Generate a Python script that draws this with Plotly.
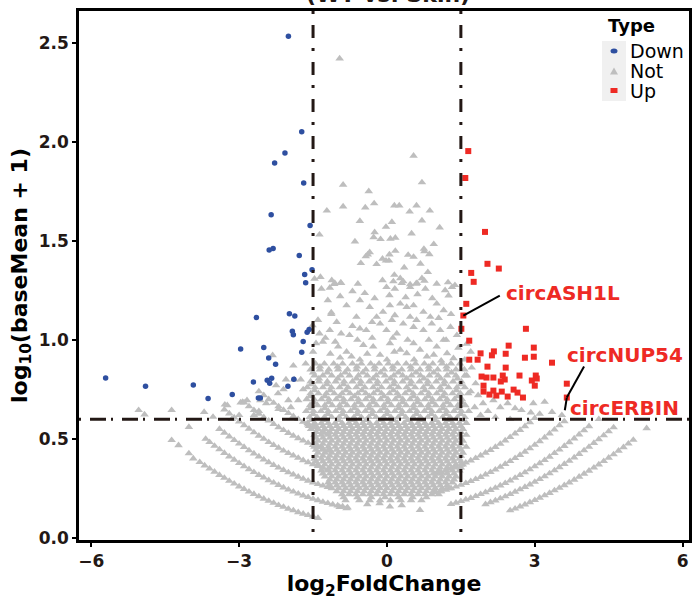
import plotly.graph_objects as go

# ---------------- data ----------------
up_x = [1.65, 1.59, 1.99, 2.04, 2.27, 1.71, 1.76, 1.61, 1.55, 1.51, 2.82, 1.67, 2.47, 2.98, 1.90, 2.17,
        2.13, 2.41, 1.67, 1.84, 2.80, 2.98, 3.35, 2.04, 2.41, 2.69, 1.92, 2.02, 2.16, 2.35, 2.39, 2.31,
        3.02, 3.04, 2.94, 3.65, 1.96, 3.00, 1.96, 2.16, 2.33, 2.08, 2.22, 2.45, 2.57, 2.65, 2.76, 3.65]
up_y = [1.953, 1.817, 1.545, 1.384, 1.360, 1.338, 1.293, 1.182, 1.123, 1.056, 1.056, 0.996, 0.971, 0.961,
        0.932, 0.942, 0.922, 0.930, 0.900, 0.900, 0.910, 0.915, 0.885, 0.865, 0.860, 0.820, 0.815, 0.810,
        0.810, 0.820, 0.800, 0.790, 0.820, 0.805, 0.795, 0.779, 0.769, 0.769, 0.739, 0.744, 0.739, 0.724,
        0.719, 0.714, 0.749, 0.734, 0.709, 0.709]

down_x = [-2.00, -1.73, -2.07, -2.28, -1.69, -2.35, -1.56, -2.39, -2.31, -1.78, -1.52, -1.67, -1.65,
          -5.71, -4.90, -3.93, -3.63, -3.14, -2.97, -2.65, -2.71, -2.61, -2.57, -2.50, -2.40, -2.26,
          -2.43, -2.34, -2.38, -1.98, -1.87, -1.92, -1.90, -1.70, -1.62, -1.58, -1.73, -2.01, -1.89]
down_y = [2.532, 2.050, 1.943, 1.893, 1.792, 1.632, 1.577, 1.454, 1.461, 1.426, 1.354, 1.330, 1.288,
          0.808, 0.766, 0.772, 0.704, 0.724, 0.954, 1.113, 0.788, 0.707, 0.707, 0.961, 0.908, 0.877,
          0.796, 0.806, 0.781, 1.132, 1.120, 1.044, 1.026, 0.992, 1.038, 1.053, 0.937, 0.766, 0.801]

# "Not" points: sparse upper part
not_top = [(-0.96, 2.42), (0.54, 1.929), (0.71, 1.795), (-0.89, 1.783), (-0.37, 1.750), (-1.22, 1.652),
           (-0.89, 1.673), (-0.44, 1.668), (-0.26, 1.689), (0.15, 1.678), (0.25, 1.678), (0.60, 1.678),
           (0.46, 1.647), (0.87, 1.652), (-0.55, 1.600), (0.10, 1.595), (0.71, 1.602), (-0.02, 1.570),
           (1.07, 1.567), (-1.37, 1.531), (-0.25, 1.543), (-0.27, 1.518), (-0.13, 1.508), (0.07, 1.510),
           (0.17, 1.515), (0.50, 1.537), (-0.65, 1.496), (0.95, 1.483), (-0.35, 1.442), (-0.39, 1.431),
           (-0.43, 1.421), (0.05, 1.431), (0.17, 1.449), (0.43, 1.429), (0.54, 1.419), (0.75, 1.459),
           (0.76, 1.447), (0.86, 1.432), (-0.09, 1.409), (-0.02, 1.400), (0.04, 1.400), (-0.53, 1.387),
           (-0.21, 1.382), (0.35, 1.365), (0.68, 1.384), (0.83, 1.342), (0.15, 1.328), (0.27, 1.311),
           (0.33, 1.295), (-1.35, 1.317), (-1.47, 1.308), (-1.12, 1.301), (-0.94, 1.288), (-1.07, 1.281),
           (-0.09, 1.301), (0.13, 1.295), (0.47, 1.280), (0.59, 1.283), (0.71, 1.311), (0.76, 1.298),
           (1.24, 1.290), (1.38, 1.276)]

# "Not" points: middle band (about 0.9 - 1.29)
not_mid = [(-1.33, 1.258), (-1.16, 1.263), (-1.06, 1.287), (-0.93, 1.287), (-0.59, 1.283), (-0.45, 1.236),
           (-0.01, 1.266), (0.16, 1.258), (0.30, 1.287), (0.47, 1.266), (0.61, 1.287), (0.78, 1.258),
           (1.01, 1.283), (1.32, 1.266), (1.25, 1.224), (-1.13, 1.138), (-0.82, 1.174), (-0.55, 1.200),
           (-0.35, 1.166), (-0.08, 1.141), (0.06, 1.174), (0.27, 1.183), (0.40, 1.166), (0.54, 1.174),
           (0.74, 1.141), (1.01, 1.183), (1.15, 1.149), (0.88, 1.116), (0.47, 1.116), (0.16, 1.124),
           (-0.21, 1.116), (-0.62, 1.116), (-1.37, 1.032), (-1.16, 1.049), (-0.93, 1.032), (-0.76, 1.024),
           (-0.55, 1.057), (-0.42, 1.049), (-0.14, 1.082), (-0.01, 1.049), (0.20, 1.032), (0.33, 1.082),
           (0.54, 1.065), (0.74, 1.049), (0.91, 1.082), (1.08, 1.049), (1.29, 1.065), (1.42, 1.024),
           (-1.44, 0.983), (-1.30, 0.990), (-0.99, 0.966), (-0.82, 0.940), (-0.72, 0.916), (-0.48, 0.974),
           (-0.28, 0.966), (-0.14, 0.924), (0.06, 0.983), (0.27, 0.950), (0.40, 0.932), (0.54, 0.983),
           (0.67, 0.950), (0.81, 0.916), (1.01, 0.966), (1.22, 0.932), (1.35, 0.907), (1.15, 1.000),
           (-1.20, 1.200), (-0.95, 1.220), (-0.70, 1.245), (-0.25, 1.210), (0.05, 1.225), (0.38, 1.215),
           (0.62, 1.230), (0.92, 1.210), (1.18, 1.250), (-1.40, 1.100), (-1.02, 1.090), (-0.70, 1.070),
           (-0.30, 1.090), (0.10, 1.100), (0.60, 1.100), (1.05, 1.110), (1.30, 1.130), (-1.25, 1.010),
           (-1.05, 0.990), (-0.60, 1.000), (-0.30, 1.010), (0.12, 1.010), (0.42, 1.000), (0.85, 1.000),
           (1.20, 1.000), (1.45, 0.960), (-1.50, 0.940), (-1.15, 0.930), (-0.40, 0.930), (0.15, 0.940),
           (0.95, 0.925), (-0.95, 0.910), (-0.55, 0.900), (0.00, 0.900), (0.55, 0.900), (1.10, 0.895),
           (-1.13, 1.130), (-1.51, 1.073)]

# "Not" points outside the fold-change cut-offs, near the horizontal cut-off
not_side = [(-2.32, 0.922), (-2.25, 0.770), (-2.05, 0.800), (-1.88, 0.800), (-1.75, 0.800), (-2.21, 0.730),
            (-2.00, 0.695), (-1.80, 0.695), (-2.57, 0.695), (-2.45, 0.680), (-2.84, 0.695), (-3.24, 0.670),
            (-2.93, 0.686), (-1.65, 0.880), (-1.90, 0.870), (-2.10, 0.750), (-1.70, 0.750), (-2.60, 0.640),
            (-2.20, 0.650), (-1.95, 0.660), (-5.04, 0.645), (-4.92, 0.623), (-4.37, 0.645), (-3.71, 0.636),
            (-3.53, 0.611), (-3.29, 0.673), (-2.97, 0.684), (-4.02, 0.560), (-3.00, 0.620), (-3.15, 0.600),
            (-2.70, 0.620), (1.62, 0.980), (1.70, 0.940), (1.58, 0.900), (1.72, 0.860), (1.62, 0.820),
            (1.80, 0.780), (1.70, 0.740), (1.85, 0.720), (1.95, 0.680), (1.78, 0.660), (2.05, 0.640),
            (2.16, 0.695), (2.30, 0.660), (2.45, 0.680), (2.60, 0.655), (2.73, 0.645), (2.92, 0.633),
            (2.97, 0.680), (3.20, 0.687), (3.35, 0.636), (3.55, 0.620), (4.30, 0.600), (5.27, 0.554),
            (1.90, 0.620), (2.20, 0.610), (2.50, 0.600), (0.06, 0.158), (0.67, 0.141), (-0.96, 0.156),
            (-0.82, 0.150), (0.30, 0.165), (-0.40, 0.170), (-0.15, 0.175)]

# "Not" points: dense centre, one row per y level
core_y = [0.88, 0.85, 0.82, 0.79, 0.76, 0.73, 0.70, 0.67, 0.64, 0.61,
          0.58, 0.55, 0.52, 0.49, 0.46, 0.43, 0.40, 0.37, 0.34, 0.31, 0.28, 0.25, 0.22, 0.19]
core_x = [
    [-1.45, -1.27, -1.08, -0.90, -0.70, -0.52, -0.33, -0.16, 0.03, 0.21, 0.39, 0.58, 0.76, 0.93, 1.12, 1.30, 1.48],
    [-1.55, -1.36, -1.18, -0.99, -0.80, -0.62, -0.43, -0.25, -0.06, 0.12, 0.30, 0.49, 0.67, 0.85, 1.03, 1.21, 1.40, 1.57],
    [-1.47, -1.30, -1.12, -0.94, -0.76, -0.58, -0.40, -0.22, -0.04, 0.14, 0.32, 0.50, 0.68, 0.86, 1.04, 1.22, 1.40, 1.58],
    [-1.55, -1.38, -1.21, -1.04, -0.87, -0.70, -0.53, -0.36, -0.19, -0.02, 0.15, 0.32, 0.49, 0.66, 0.83, 1.00, 1.17, 1.34, 1.51],
    [-1.62, -1.46, -1.30, -1.13, -0.96, -0.79, -0.62, -0.45, -0.28, -0.11, 0.06, 0.23, 0.40, 0.57, 0.74, 0.91, 1.08, 1.25, 1.42, 1.58],
    [-1.55, -1.39, -1.23, -1.07, -0.91, -0.75, -0.59, -0.43, -0.27, -0.11, 0.05, 0.21, 0.37, 0.53, 0.69, 0.85, 1.01, 1.17, 1.33, 1.49, 1.65],
    [-1.63, -1.48, -1.33, -1.18, -1.03, -0.88, -0.73, -0.58, -0.43, -0.28, -0.13, 0.02, 0.17, 0.32, 0.47, 0.62, 0.77, 0.92, 1.07, 1.22, 1.37, 1.52],
    [-1.56, -1.41, -1.26, -1.11, -0.96, -0.81, -0.66, -0.51, -0.36, -0.21, -0.06, 0.09, 0.24, 0.39, 0.54, 0.69, 0.84, 0.99, 1.14, 1.29, 1.44, 1.59],
    [-1.64, -1.49, -1.34, -1.19, -1.04, -0.89, -0.74, -0.59, -0.44, -0.29, -0.14, 0.01, 0.16, 0.31, 0.46, 0.61, 0.76, 0.91, 1.06, 1.21, 1.36, 1.51, 1.66],
    [-1.57, -1.42, -1.27, -1.12, -0.97, -0.82, -0.67, -0.52, -0.37, -0.22, -0.07, 0.08, 0.23, 0.38, 0.53, 0.68, 0.83, 0.98, 1.13, 1.28, 1.43, 1.58],
    [-1.61, -1.47, -1.33, -1.19, -1.05, -0.91, -0.77, -0.63, -0.49, -0.35, -0.21, -0.07, 0.07, 0.21, 0.35, 0.49, 0.63, 0.77, 0.91, 1.05, 1.19, 1.33, 1.47, 1.61],
    [-1.54, -1.40, -1.26, -1.12, -0.98, -0.84, -0.70, -0.56, -0.42, -0.28, -0.14, 0.00, 0.14, 0.28, 0.42, 0.56, 0.70, 0.84, 0.98, 1.12, 1.26, 1.40, 1.54],
    [-1.47, -1.33, -1.19, -1.05, -0.91, -0.77, -0.63, -0.49, -0.35, -0.21, -0.07, 0.07, 0.21, 0.35, 0.49, 0.63, 0.77, 0.91, 1.05, 1.19, 1.33, 1.47, 1.61],
    [-1.40, -1.26, -1.12, -0.98, -0.84, -0.70, -0.56, -0.42, -0.28, -0.14, 0.00, 0.14, 0.28, 0.42, 0.56, 0.70, 0.84, 0.98, 1.12, 1.26, 1.40, 1.54],
    [-1.47, -1.33, -1.19, -1.05, -0.91, -0.77, -0.63, -0.49, -0.35, -0.21, -0.07, 0.07, 0.21, 0.35, 0.49, 0.63, 0.77, 0.91, 1.05, 1.19, 1.33, 1.47, 1.61],
    [-1.40, -1.26, -1.12, -0.98, -0.84, -0.70, -0.56, -0.42, -0.28, -0.14, 0.00, 0.14, 0.28, 0.42, 0.56, 0.70, 0.84, 0.98, 1.12, 1.26, 1.40, 1.54],
    [-1.47, -1.33, -1.19, -1.05, -0.91, -0.77, -0.63, -0.49, -0.35, -0.21, -0.07, 0.07, 0.21, 0.35, 0.49, 0.63, 0.77, 0.91, 1.05, 1.19, 1.33, 1.47],
    [-1.40, -1.26, -1.12, -0.98, -0.84, -0.70, -0.56, -0.42, -0.28, -0.14, 0.00, 0.14, 0.28, 0.42, 0.56, 0.70, 0.84, 0.98, 1.12, 1.26, 1.40, 1.54],
    [-1.33, -1.19, -1.05, -0.91, -0.77, -0.63, -0.49, -0.35, -0.21, -0.07, 0.07, 0.21, 0.35, 0.49, 0.63, 0.77, 0.91, 1.05, 1.19, 1.33, 1.47],
    [-1.26, -1.12, -0.98, -0.84, -0.70, -0.56, -0.42, -0.28, -0.14, 0.00, 0.14, 0.28, 0.42, 0.56, 0.70, 0.84, 0.98, 1.12, 1.26, 1.40],
    [-1.19, -1.05, -0.91, -0.77, -0.63, -0.49, -0.35, -0.21, -0.07, 0.07, 0.21, 0.35, 0.49, 0.63, 0.77, 0.91, 1.05, 1.19, 1.33],
    [-1.12, -0.98, -0.84, -0.70, -0.56, -0.42, -0.28, -0.14, 0.00, 0.14, 0.28, 0.42, 0.56, 0.70, 0.84, 0.98, 1.12, 1.26],
    [-0.91, -0.77, -0.63, -0.49, -0.35, -0.21, -0.07, 0.07, 0.21, 0.35, 0.49, 0.63, 0.77, 0.91, 1.05],
    [-0.84, -0.56, -0.35, -0.14, 0.07, 0.28, 0.49, 0.70],
]

# "Not" points: in-between rows that fill the dense centre
fill_y = [0.865, 0.835, 0.805, 0.775, 0.745, 0.715, 0.685, 0.655, 0.625, 0.595,
          0.565, 0.535, 0.505, 0.475, 0.445, 0.415, 0.385, 0.355, 0.325, 0.295, 0.265, 0.235, 0.205]
fill_x = [
    [-1.36, -1.00, -0.61, -0.25, 0.12, 0.48, 0.85, 1.21],
    [-1.50, -1.21, -0.85, -0.49, -0.13, 0.23, 0.59, 0.95, 1.31],
    [-1.38, -1.00, -0.62, -0.28, 0.07, 0.40, 0.75, 1.09, 1.43],
    [-1.54, -1.22, -0.88, -0.54, -0.20, 0.14, 0.48, 0.82, 1.16, 1.50],
    [-1.47, -1.15, -0.83, -0.51, -0.19, 0.13, 0.45, 0.77, 1.09, 1.41],
    [-1.56, -1.26, -0.96, -0.66, -0.36, -0.06, 0.24, 0.54, 0.84, 1.14, 1.44],
    [-1.48, -1.18, -0.88, -0.58, -0.28, 0.02, 0.32, 0.62, 0.92, 1.22, 1.52],
    [-1.56, -1.26, -0.96, -0.66, -0.36, -0.06, 0.24, 0.54, 0.84, 1.14, 1.44],
    [-1.50, -1.20, -0.90, -0.60, -0.30, 0.00, 0.30, 0.60, 0.90, 1.20, 1.50],
    [-1.54, -1.26, -0.98, -0.70, -0.42, -0.14, 0.14, 0.42, 0.70, 0.98, 1.26, 1.54],
    [-1.58, -1.44, -1.30, -1.16, -1.02, -0.88, -0.74, -0.60, -0.46, -0.32, -0.18, -0.04, 0.10, 0.24, 0.38, 0.52, 0.66, 0.80, 0.94, 1.08, 1.22, 1.36, 1.50],
    [-1.44, -1.30, -1.16, -1.02, -0.88, -0.74, -0.60, -0.46, -0.32, -0.18, -0.04, 0.10, 0.24, 0.38, 0.52, 0.66, 0.80, 0.94, 1.08, 1.22, 1.36, 1.50],
    [-1.44, -1.30, -1.16, -1.02, -0.88, -0.74, -0.60, -0.46, -0.32, -0.18, -0.04, 0.10, 0.24, 0.38, 0.52, 0.66, 0.80, 0.94, 1.08, 1.22, 1.36, 1.50],
    [-1.44, -1.30, -1.16, -1.02, -0.88, -0.74, -0.60, -0.46, -0.32, -0.18, -0.04, 0.10, 0.24, 0.38, 0.52, 0.66, 0.80, 0.94, 1.08, 1.22, 1.36, 1.50],
    [-1.44, -1.30, -1.16, -1.02, -0.88, -0.74, -0.60, -0.46, -0.32, -0.18, -0.04, 0.10, 0.24, 0.38, 0.52, 0.66, 0.80, 0.94, 1.08, 1.22, 1.36, 1.50],
    [-1.44, -1.30, -1.16, -1.02, -0.88, -0.74, -0.60, -0.46, -0.32, -0.18, -0.04, 0.10, 0.24, 0.38, 0.52, 0.66, 0.80, 0.94, 1.08, 1.22, 1.36, 1.50],
    [-1.44, -1.30, -1.16, -1.02, -0.88, -0.74, -0.60, -0.46, -0.32, -0.18, -0.04, 0.10, 0.24, 0.38, 0.52, 0.66, 0.80, 0.94, 1.08, 1.22, 1.36, 1.50],
    [-1.30, -1.16, -1.02, -0.88, -0.74, -0.60, -0.46, -0.32, -0.18, -0.04, 0.10, 0.24, 0.38, 0.52, 0.66, 0.80, 0.94, 1.08, 1.22, 1.36, 1.50],
    [-1.30, -1.16, -1.02, -0.88, -0.74, -0.60, -0.46, -0.32, -0.18, -0.04, 0.10, 0.24, 0.38, 0.52, 0.66, 0.80, 0.94, 1.08, 1.22, 1.36],
    [-1.16, -1.02, -0.88, -0.74, -0.60, -0.46, -0.32, -0.18, -0.04, 0.10, 0.24, 0.38, 0.52, 0.66, 0.80, 0.94, 1.08, 1.22, 1.36],
    [-1.16, -1.02, -0.88, -0.74, -0.60, -0.46, -0.32, -0.18, -0.04, 0.10, 0.24, 0.38, 0.52, 0.66, 0.80, 0.94, 1.08, 1.22],
    [-1.02, -0.88, -0.74, -0.60, -0.46, -0.32, -0.18, -0.04, 0.10, 0.24, 0.38, 0.52, 0.66, 0.80, 0.94, 1.08],
    [-0.88, -0.60, -0.32, -0.04, 0.24, 0.52, 0.80],
]

# "Not" points: the low-count arcs on the left
arcA_x = [-4.37, -4.23, -4.02, -3.93, -3.80, -3.70, -3.60, -3.50, -3.40, -3.30, -3.20, -3.10, -3.00, -2.90, -2.80,
          -2.70, -2.60, -2.50, -2.40, -2.30, -2.20, -2.10, -2.00, -1.90, -1.80, -1.70, -1.60, -1.50, -1.40]
arcA_y = [0.494, 0.468, 0.427, 0.401, 0.383, 0.366, 0.350, 0.334, 0.318, 0.303, 0.288, 0.274, 0.260, 0.247, 0.234,
          0.222, 0.210, 0.198, 0.187, 0.177, 0.166, 0.157, 0.147, 0.139, 0.130, 0.122, 0.115, 0.108, 0.101]
arcB_x = [-3.68, -3.60, -3.50, -3.40, -3.30, -3.20, -3.10, -3.00, -2.90, -2.80, -2.70, -2.60, -2.50, -2.40, -2.30,
          -2.20, -2.10, -2.00, -1.90, -1.80, -1.70, -1.60, -1.50, -1.40, -1.30, -1.20, -1.10, -1.00, -0.90, -0.80]
arcB_y = [0.500, 0.484, 0.465, 0.447, 0.429, 0.411, 0.395, 0.378, 0.362, 0.347, 0.332, 0.318, 0.305, 0.291, 0.279,
          0.267, 0.255, 0.244, 0.234, 0.224, 0.214, 0.206, 0.197, 0.190, 0.182, 0.176, 0.169, 0.164, 0.159, 0.154]
arcC_x = [-3.40, -3.30, -3.20, -3.10, -3.00, -2.90, -2.80, -2.70, -2.60, -2.50, -2.40, -2.30, -2.20, -2.10, -2.00,
          -1.90, -1.80, -1.70, -1.60, -1.50, -1.40, -1.30, -1.20]
arcC_y = [0.550, 0.531, 0.512, 0.494, 0.476, 0.459, 0.442, 0.426, 0.411, 0.396, 0.382, 0.368, 0.355, 0.343, 0.331,
          0.320, 0.309, 0.299, 0.289, 0.280, 0.272, 0.264, 0.257]
arcD_x = [-3.30, -3.20, -3.10, -3.00, -2.90, -2.80, -2.70, -2.60, -2.50, -2.40, -2.30, -2.20, -2.10, -2.00, -1.90,
          -1.80, -1.70, -1.60, -1.50, -1.40, -1.30, -1.20]
arcD_y = [0.648, 0.628, 0.608, 0.588, 0.569, 0.551, 0.533, 0.516, 0.500, 0.484, 0.469, 0.455, 0.441, 0.428, 0.416,
          0.404, 0.392, 0.382, 0.372, 0.363, 0.354, 0.346]
arcE_x = [-2.90, -2.80, -2.70, -2.60, -2.50, -2.40, -2.30, -2.20, -2.10, -2.00, -1.90, -1.80, -1.70, -1.60, -1.50,
          -1.40, -1.30, -1.20]
arcE_y = [0.684, 0.664, 0.645, 0.627, 0.609, 0.592, 0.575, 0.559, 0.544, 0.530, 0.516, 0.503, 0.491, 0.480, 0.469,
          0.459, 0.449, 0.440]
arcF_x = [-2.60, -2.50, -2.40, -2.30, -2.20, -2.10, -2.00, -1.90, -1.80, -1.70, -1.60, -1.50, -1.40, -1.30, -1.20]
arcF_y = [0.740, 0.720, 0.700, 0.682, 0.664, 0.646, 0.630, 0.614, 0.600, 0.586, 0.572, 0.560, 0.548, 0.538, 0.528]

# "Not" points: the low-count arcs on the right
arcR1_x = [2.5, 2.6, 2.7, 2.8, 2.9, 3.0, 3.1, 3.2, 3.3, 3.4, 3.5, 3.6, 3.7, 3.8, 3.9, 4.0, 4.1, 4.2, 4.3, 4.4,
           4.5, 4.6, 4.7, 4.8, 4.9, 5.0]
arcR1_y = [0.139, 0.148, 0.159, 0.169, 0.180, 0.191, 0.203, 0.215, 0.227, 0.240, 0.253, 0.266, 0.280, 0.294, 0.309,
           0.324, 0.339, 0.355, 0.371, 0.388, 0.405, 0.422, 0.440, 0.458, 0.476, 0.495]
arcR2_x = [2.0, 2.1, 2.2, 2.3, 2.4, 2.5, 2.6, 2.7, 2.8, 2.9, 3.0, 3.1, 3.2, 3.3, 3.4, 3.5, 3.6, 3.7, 3.8, 3.9,
           4.0, 4.1, 4.2, 4.3, 4.4, 4.5, 4.6]
arcR2_y = [0.170, 0.180, 0.189, 0.200, 0.210, 0.221, 0.233, 0.245, 0.257, 0.270, 0.283, 0.297, 0.311, 0.326, 0.341,
           0.357, 0.373, 0.389, 0.406, 0.424, 0.442, 0.460, 0.479, 0.498, 0.518, 0.538, 0.558]
arcR3_x = [1.3, 1.4, 1.5, 1.6, 1.7, 1.8, 1.9, 2.0, 2.1, 2.2, 2.3, 2.4, 2.5, 2.6, 2.7, 2.8, 2.9, 3.0, 3.1, 3.2,
           3.3, 3.4, 3.5, 3.6, 3.7, 3.8, 3.9, 4.0, 4.1]
arcR3_y = [0.171, 0.178, 0.186, 0.194, 0.202, 0.211, 0.221, 0.231, 0.242, 0.253, 0.265, 0.277, 0.290, 0.303, 0.317,
           0.331, 0.346, 0.361, 0.377, 0.393, 0.410, 0.428, 0.446, 0.464, 0.483, 0.502, 0.522, 0.543, 0.564]
arcR4_x = [1.0, 1.1, 1.2, 1.3, 1.4, 1.5, 1.6, 1.7, 1.8, 1.9, 2.0, 2.1, 2.2, 2.3, 2.4, 2.5, 2.6, 2.7, 2.8, 2.9,
           3.0, 3.1, 3.2, 3.3, 3.4, 3.5, 3.6]
arcR4_y = [0.230, 0.236, 0.243, 0.251, 0.259, 0.268, 0.277, 0.287, 0.297, 0.308, 0.320, 0.332, 0.345, 0.359, 0.373,
           0.388, 0.403, 0.419, 0.435, 0.452, 0.470, 0.488, 0.507, 0.527, 0.547, 0.568, 0.589]
arcR5_x = [1.0, 1.1, 1.2, 1.3, 1.4, 1.5, 1.6, 1.7, 1.8, 1.9, 2.0, 2.1, 2.2, 2.3, 2.4, 2.5, 2.6, 2.7, 2.8, 2.9,
           3.0, 3.1]
arcR5_y = [0.325, 0.332, 0.340, 0.349, 0.359, 0.369, 0.380, 0.391, 0.403, 0.416, 0.430, 0.444, 0.459, 0.475, 0.492,
           0.509, 0.527, 0.545, 0.564, 0.584, 0.605, 0.626]

# labelled circRNAs: label text, label anchor (left, middle) and the point each label points to
label_text = ["circASH1L", "circNUP54", "circERBIN"]
label_x = [2.37, 3.61, 3.67]
label_y = [1.239, 0.922, 0.655]
label_pt_x = [1.55, 3.65, 3.65]
label_pt_y = [1.123, 0.709, 0.709]
label_end_x = [2.29, 4.00, 3.61]
label_end_y = [1.224, 0.866, 0.645]

x_ticks = [-6, -3, 0, 3, 6]
y_ticks = [0.0, 0.5, 1.0, 1.5, 2.0, 2.5]
fc_cut = 1.5
mean_cut = 0.6
legend_names = ["Down", "Not", "Up"]

# ---------------- assemble the "Not" series ----------------
not_x, not_y = [], []
for pts in (not_top, not_mid, not_side):
    not_x += [p[0] for p in pts]
    not_y += [p[1] for p in pts]
for rows_y, rows_x in ((core_y, core_x), (fill_y, fill_x)):
    for yv, xs in zip(rows_y, rows_x):
        not_x += xs
        not_y += [yv] * len(xs)
for ax_, ay_ in ((arcA_x, arcA_y), (arcB_x, arcB_y), (arcC_x, arcC_y), (arcD_x, arcD_y),
                 (arcE_x, arcE_y), (arcF_x, arcF_y), (arcR1_x, arcR1_y), (arcR2_x, arcR2_y),
                 (arcR3_x, arcR3_y), (arcR4_x, arcR4_y), (arcR5_x, arcR5_y)):
    not_x += ax_
    not_y += ay_

# ---------------- styling ----------------
W, H = 692, 602
ML, MR, MT, MB = 79, 3, 11, 62
PW, PH = W - ML - MR, H - MT - MB
FONT = "DejaVu Sans, Liberation Sans, Arial, sans-serif"
C_DOWN, C_NOT, C_UP = "#2E4FA0", "#BEBEBE", "#EE2A24"
C_LINE = "#231815"


def px(xp):
    return (xp - ML) / PW


def py(yp):
    return (H - MB - yp) / PH


fig = go.Figure()
fig.add_trace(go.Scatter(x=not_x, y=not_y, mode="markers", name=legend_names[1], showlegend=False,
                         marker=dict(symbol="triangle-up", size=7.5, color=C_NOT)))
fig.add_trace(go.Scatter(x=down_x, y=down_y, mode="markers", name=legend_names[0], showlegend=False,
                         marker=dict(symbol="circle", size=5.5, color=C_DOWN)))
fig.add_trace(go.Scatter(x=up_x, y=up_y, mode="markers", name=legend_names[2], showlegend=False,
                         marker=dict(symbol="square", size=6, color=C_UP)))

shapes = []
for xv in (-fc_cut, fc_cut):
    shapes.append(dict(type="line", xref="x", yref="y domain", x0=xv, x1=xv, y0=1, y1=0, layer="above",
                       line=dict(color=C_LINE, width=3, dash="3px,11px,13px,10px")))
shapes.append(dict(type="line", xref="x domain", yref="y", x0=0, x1=1, y0=mean_cut, y1=mean_cut, layer="above",
                   line=dict(color=C_LINE, width=3, dash="2px,9px,16px,5px")))
for i in range(len(label_text)):
    shapes.append(dict(type="line", xref="x", yref="y", x0=label_pt_x[i], y0=label_pt_y[i],
                       x1=label_end_x[i], y1=label_end_y[i], layer="above",
                       line=dict(color="#000000", width=2)))

# manual legend (key background + symbols)
shapes.append(dict(type="rect", xref="paper", yref="paper", x0=px(602), x1=px(626), y0=py(101), y1=py(41),
                   fillcolor="#F0F0F0", line=dict(width=0), layer="above"))
shapes.append(dict(type="circle", xref="paper", yref="paper", x0=px(610.5), x1=px(617.5), y0=py(53.5),
                   y1=py(48.5), fillcolor=C_DOWN, line=dict(width=0), layer="above"))
shapes.append(dict(type="path", xref="paper", yref="paper", layer="above", fillcolor=C_NOT, line=dict(width=0),
                   path=f"M {px(610)},{py(74.5)} L {px(618)},{py(74.5)} L {px(614)},{py(67.5)} Z"))
shapes.append(dict(type="rect", xref="paper", yref="paper", x0=px(610.5), x1=px(617.5), y0=py(93),
                   y1=py(88), fillcolor=C_UP, line=dict(width=0), layer="above"))

annotations = []
for i, t in enumerate(label_text):
    annotations.append(dict(x=label_x[i], y=label_y[i], xref="x", yref="y", text=f"<b>{t}</b>",
                            showarrow=False, xanchor="left", yanchor="middle",
                            font=dict(family=FONT, size=20, color=C_UP)))
annotations.append(dict(x=px(606), y=py(25), xref="paper", yref="paper", text="<b>Type</b>", showarrow=False,
                        xanchor="left", yanchor="middle", font=dict(family=FONT, size=18, color="#000000")))
for name, yp in zip(legend_names, (51, 71, 90.5)):
    annotations.append(dict(x=px(628), y=py(yp), xref="paper", yref="paper", text=name, showarrow=False,
                            xanchor="left", yanchor="middle", font=dict(family=FONT, size=19, color="#000000")))
annotations.append(dict(x=px(387.5), y=py(-5), xref="paper", yref="paper", text="<b>(WT vs. Skin)</b>",
                        showarrow=False, xanchor="center", yanchor="middle",
                        font=dict(family=FONT, size=22, color="#231815")))

axis_common = dict(showgrid=False, zeroline=False, showline=True, mirror=True, linecolor="#000000",
                   linewidth=2.5, ticks="outside", ticklen=4, tickwidth=2, tickcolor="#000000",
                   tickfont=dict(family=FONT, size=17, color="#231815", weight="bold"))

fig.update_layout(
    width=W, height=H, margin=dict(l=ML, r=MR, t=MT, b=MB, autoexpand=False),
    paper_bgcolor="white", plot_bgcolor="white", showlegend=False,
    shapes=shapes, annotations=annotations,
    xaxis=dict(range=[-6.25, 6.13], tickvals=x_ticks, automargin=False,
               title=dict(text="<b>log<sub>2</sub>FoldChange</b>", standoff=4,
                          font=dict(family=FONT, size=22, color="#000000")), **axis_common),
    yaxis=dict(range=[-0.01, 2.66], tickvals=y_ticks, tickformat=".1f", automargin=False,
               title=dict(text="<b>log<sub>10</sub>(baseMean + 1)</b>", standoff=6,
                          font=dict(family=FONT, size=22, color="#000000")), **axis_common),
)

fig.write_html("out.html", config={"displayModeBar": False},
               post_script="document.body.style.margin='0px';document.body.style.overflow='hidden';")
